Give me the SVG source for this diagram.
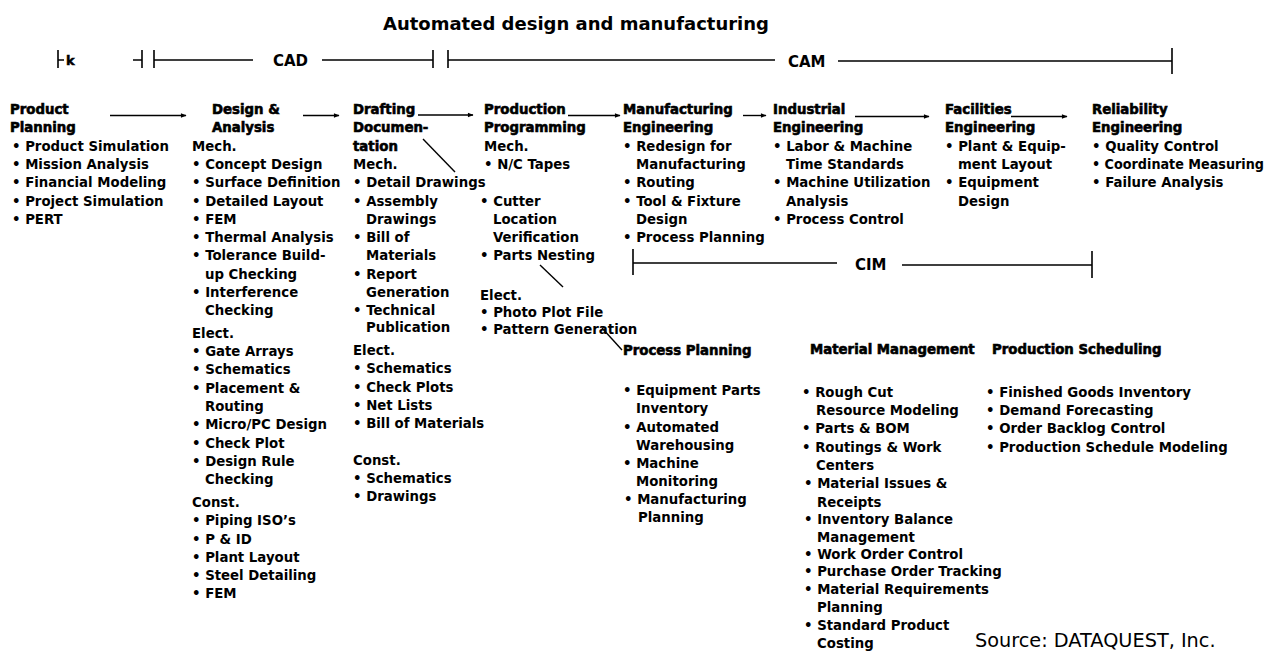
<svg xmlns="http://www.w3.org/2000/svg" width="1269" height="654" viewBox="0 0 1269 654">
  <style>
    text { font-family: "DejaVu Sans", "Liberation Sans", sans-serif; fill: #000; }
    .t { font-size: 13.3px; font-weight: bold; }
    .h { font-size: 13.3px; font-weight: bold; stroke: #000; stroke-width: 0.6px; }
    .ttl { font-size: 18px; font-weight: bold; }
    .lbl { font-size: 15px; font-weight: bold; }
    .src { font-size: 19.3px; }
    .bar { stroke: #000; stroke-width: 1.6; fill: none; }
    .ln { stroke: #000; stroke-width: 1.4; fill: none; }
    .arr { stroke: #000; stroke-width: 1.4; fill: none; marker-end: url(#ah); }
  </style>
  <defs>
    <marker id="ah" viewBox="0 0 10 10" refX="9" refY="5" markerWidth="5" markerHeight="4" orient="auto" markerUnits="strokeWidth">
      <path d="M0,1 L10,5 L0,9 Z" fill="#000"/>
    </marker>
  </defs>
  <rect width="1269" height="654" fill="#fff"/>

  <!-- title -->
  <text class="ttl" x="383" y="30">Automated design and manufacturing</text>

  <!-- span brackets: k, CAD, CAM, CIM -->
  <g id="spans">
    <path class="bar" d="M58,50 V68 M58,60 H64"/>
    <text class="t" x="66" y="65" style="font-size:13px;stroke:#000;stroke-width:0.5px">k</text>
    <path class="bar" d="M133,60 H142 M142,50 V68"/>
    <path class="bar" d="M154,50 V68 M154,60 H253"/>
    <text class="lbl" x="273" y="66">CAD</text>
    <path class="bar" d="M322,60 H433 M433,50 V68"/>
    <path class="bar" d="M448,50 V68 M448,60 H775"/>
    <text class="lbl" x="788" y="67">CAM</text>
    <path class="bar" d="M838,61 H1172 M1172,48 V74"/>
    <path class="bar" d="M633,249 V275 M633,263 H837"/>
    <text class="lbl" x="855" y="270">CIM</text>
    <path class="bar" d="M902,265 H1092 M1092,251 V278"/>
  </g>

  <!-- connectors -->
  <g id="connectors">
    <path class="arr" d="M110,115.5 H186"/>
    <path class="arr" d="M303,115.5 H339"/>
    <path class="arr" d="M418,115 H473"/>
    <path class="arr" d="M568,115.5 H620"/>
    <path class="arr" d="M743,115.5 H766"/>
    <path class="arr" d="M855,116.5 H929"/>
    <path class="arr" d="M1011,116.5 H1067"/>
    <path class="ln" d="M423,139 L455,172"/>
    <path class="ln" d="M540,265 L563,287"/>
    <path class="ln" d="M602,328 L622,350"/>
  </g>

  <g id="product-planning">
    <text class="h" x="10" y="114">Product</text>
    <text class="h" x="10" y="132.3">Planning</text>
    <text class="t" x="12" y="150.6">• Product Simulation</text>
    <text class="t" x="12" y="168.9">• Mission Analysis</text>
    <text class="t" x="12" y="187.2">• Financial Modeling</text>
    <text class="t" x="12" y="205.5">• Project Simulation</text>
    <text class="t" x="12" y="223.8">• PERT</text>
  </g>

  <g id="design-analysis">
    <text class="h" x="212" y="114">Design &amp;</text>
    <text class="h" x="212" y="132.3">Analysis</text>
    <text class="t" x="192" y="150.6">Mech.</text>
    <text class="t" x="192" y="168.9">• Concept Design</text>
    <text class="t" x="192" y="187.2">• Surface Definition</text>
    <text class="t" x="192" y="205.5">• Detailed Layout</text>
    <text class="t" x="192" y="223.8">• FEM</text>
    <text class="t" x="192" y="242.1">• Thermal Analysis</text>
    <text class="t" x="192" y="260.4">• Tolerance Build-</text>
    <text class="t" x="205" y="278.7">up Checking</text>
    <text class="t" x="192" y="297">• Interference</text>
    <text class="t" x="205" y="315.3">Checking</text>
    <text class="t" x="192" y="338">Elect.</text>
    <text class="t" x="192" y="356">• Gate Arrays</text>
    <text class="t" x="192" y="374">• Schematics</text>
    <text class="t" x="192" y="392.5">• Placement &amp;</text>
    <text class="t" x="205" y="411">Routing</text>
    <text class="t" x="192" y="429">• Micro/PC Design</text>
    <text class="t" x="192" y="447.5">• Check Plot</text>
    <text class="t" x="192" y="466">• Design Rule</text>
    <text class="t" x="205" y="484">Checking</text>
    <text class="t" x="192" y="507">Const.</text>
    <text class="t" x="192" y="525">• Piping ISO’s</text>
    <text class="t" x="192" y="543.5">• P &amp; ID</text>
    <text class="t" x="192" y="562">• Plant Layout</text>
    <text class="t" x="192" y="580">• Steel Detailing</text>
    <text class="t" x="192" y="598">• FEM</text>
  </g>

  <g id="drafting-documentation">
    <text class="h" x="353" y="114">Drafting</text>
    <text class="h" x="353" y="132.3">Documen-</text>
    <text class="h" x="353" y="150.6">tation</text>
    <text class="t" x="353" y="168.9">Mech.</text>
    <text class="t" x="353" y="187.2">• Detail Drawings</text>
    <text class="t" x="353" y="205.5">• Assembly</text>
    <text class="t" x="366" y="223.8">Drawings</text>
    <text class="t" x="353" y="242.1">• Bill of</text>
    <text class="t" x="366" y="260.4">Materials</text>
    <text class="t" x="353" y="278.7">• Report</text>
    <text class="t" x="366" y="297">Generation</text>
    <text class="t" x="353" y="315.3">• Technical</text>
    <text class="t" x="366" y="332">Publication</text>
    <text class="t" x="353" y="355">Elect.</text>
    <text class="t" x="353" y="373">• Schematics</text>
    <text class="t" x="353" y="391.5">• Check Plots</text>
    <text class="t" x="353" y="410">• Net Lists</text>
    <text class="t" x="353" y="428">• Bill of Materials</text>
    <text class="t" x="353" y="465">Const.</text>
    <text class="t" x="353" y="483">• Schematics</text>
    <text class="t" x="353" y="501">• Drawings</text>
  </g>

  <g id="production-programming">
    <text class="h" x="484" y="114">Production</text>
    <text class="h" x="484" y="132.3">Programming</text>
    <text class="t" x="484" y="150.6">Mech.</text>
    <text class="t" x="484" y="168.9">• N/C Tapes</text>
    <text class="t" x="480" y="205.5">• Cutter</text>
    <text class="t" x="493" y="223.8">Location</text>
    <text class="t" x="493" y="242.1">Verification</text>
    <text class="t" x="480" y="260.4">• Parts Nesting</text>
    <text class="t" x="480" y="300">Elect.</text>
    <text class="t" x="480" y="317">• Photo Plot File</text>
    <text class="t" x="480" y="334">• Pattern Generation</text>
  </g>

  <g id="manufacturing-engineering">
    <text class="h" x="623" y="114">Manufacturing</text>
    <text class="h" x="623" y="132.3">Engineering</text>
    <text class="t" x="623" y="150.6">• Redesign for</text>
    <text class="t" x="636" y="168.9">Manufacturing</text>
    <text class="t" x="623" y="187.2">• Routing</text>
    <text class="t" x="623" y="205.5">• Tool &amp; Fixture</text>
    <text class="t" x="636" y="223.8">Design</text>
    <text class="t" x="623" y="242.1">• Process Planning</text>
  </g>

  <g id="industrial-engineering">
    <text class="h" x="773" y="114">Industrial</text>
    <text class="h" x="773" y="132.3">Engineering</text>
    <text class="t" x="773" y="150.6">• Labor &amp; Machine</text>
    <text class="t" x="786" y="168.9">Time Standards</text>
    <text class="t" x="773" y="187.2">• Machine Utilization</text>
    <text class="t" x="786" y="205.5">Analysis</text>
    <text class="t" x="773" y="223.8">• Process Control</text>
  </g>

  <g id="facilities-engineering">
    <text class="h" x="945" y="114">Facilities</text>
    <text class="h" x="945" y="132.3">Engineering</text>
    <text class="t" x="945" y="150.6">• Plant &amp; Equip-</text>
    <text class="t" x="958" y="168.9">ment Layout</text>
    <text class="t" x="945" y="187.2">• Equipment</text>
    <text class="t" x="958" y="205.5">Design</text>
  </g>

  <g id="reliability-engineering">
    <text class="h" x="1092" y="114">Reliability</text>
    <text class="h" x="1092" y="132.3">Engineering</text>
    <text class="t" x="1092" y="150.6">• Quality Control</text>
    <text class="t" x="1092" y="168.9" textLength="172" lengthAdjust="spacingAndGlyphs">• Coordinate Measuring</text>
    <text class="t" x="1092" y="187.2">• Failure Analysis</text>
  </g>

  <g id="process-planning">
    <text class="h" x="623" y="355">Process Planning</text>
    <text class="t" x="623" y="395">• Equipment Parts</text>
    <text class="t" x="636" y="413">Inventory</text>
    <text class="t" x="623" y="432">• Automated</text>
    <text class="t" x="636" y="450">Warehousing</text>
    <text class="t" x="623" y="468">• Machine</text>
    <text class="t" x="636" y="486">Monitoring</text>
    <text class="t" x="624" y="504">• Manufacturing</text>
    <text class="t" x="638" y="522">Planning</text>
  </g>

  <g id="material-management">
    <text class="h" x="810" y="354">Material Management</text>
    <text class="t" x="802" y="397">• Rough Cut</text>
    <text class="t" x="816" y="415">Resource Modeling</text>
    <text class="t" x="802" y="433">• Parts &amp; BOM</text>
    <text class="t" x="802" y="452">• Routings &amp; Work</text>
    <text class="t" x="816" y="470">Centers</text>
    <text class="t" x="804" y="488">• Material Issues &amp;</text>
    <text class="t" x="817" y="507">Receipts</text>
    <text class="t" x="804" y="524">• Inventory Balance</text>
    <text class="t" x="817" y="542">Management</text>
    <text class="t" x="804" y="559">• Work Order Control</text>
    <text class="t" x="804" y="576">• Purchase Order Tracking</text>
    <text class="t" x="804" y="594">• Material Requirements</text>
    <text class="t" x="817" y="612">Planning</text>
    <text class="t" x="804" y="630">• Standard Product</text>
    <text class="t" x="817" y="648">Costing</text>
  </g>

  <g id="production-scheduling">
    <text class="h" x="992" y="354">Production Scheduling</text>
    <text class="t" x="986" y="397">• Finished Goods Inventory</text>
    <text class="t" x="986" y="415">• Demand Forecasting</text>
    <text class="t" x="986" y="433">• Order Backlog Control</text>
    <text class="t" x="986" y="452">• Production Schedule Modeling</text>
  </g>

  <text class="src" x="975" y="647">Source: DATAQUEST, Inc.</text>
</svg>
